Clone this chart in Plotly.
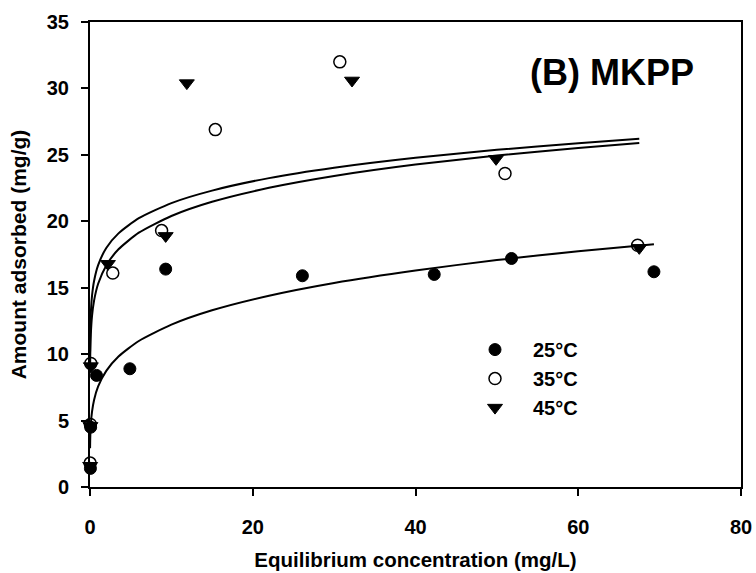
import plotly.graph_objects as go

# Measured data
c25 = [0.05, 0.08, 0.8, 4.9, 9.3, 26.1, 42.3, 51.8, 69.3]
q25 = [1.4, 4.5, 8.4, 8.9, 16.4, 15.9, 16.0, 17.2, 16.2]
c35 = [0.02, 0.05, 0.1, 2.8, 8.8, 15.4, 30.7, 51.0, 67.3]
q35 = [1.8, 4.7, 9.3, 16.1, 19.3, 26.9, 32.0, 23.6, 18.2]
c45 = [0.02, 0.05, 0.1, 2.2, 9.3, 11.9, 32.2, 49.9, 67.5]
q45 = [1.6, 4.6, 9.1, 16.8, 18.9, 30.4, 30.6, 24.7, 18.0]

# Fitted curves
fit_c_low = [0.01, 0.03, 0.1, 0.25, 0.5, 1, 2, 3.5, 6, 10, 15, 22, 30, 40, 50, 60, 69.3]
fit_q_low = [2.91, 3.65, 4.69, 5.67, 6.55, 7.57, 8.74, 9.82, 10.99, 12.22, 13.30, 14.40, 15.36, 16.30, 17.08, 17.74, 18.28]
fit_c_up = [0.01, 0.03, 0.1, 0.25, 0.5, 1, 2, 3.5, 6, 10, 15, 22, 30, 40, 50, 60, 67.5]
fit_q_a = [10.2, 11.48, 13.05, 14.40, 15.51, 16.70, 17.99, 19.09, 20.23, 21.37, 22.31, 23.25, 24.03, 24.78, 25.38, 25.88, 26.21]
fit_q_b = [8.60, 9.87, 11.47, 12.87, 14.03, 15.30, 16.68, 17.89, 19.14, 20.40, 21.47, 22.52, 23.41, 24.27, 24.95, 25.52, 25.90]

FONT = "Liberation Sans, Arial, sans-serif"

fig = go.Figure()
for cx, qy in [(fit_c_low, fit_q_low), (fit_c_up, fit_q_a), (fit_c_up, fit_q_b)]:
    fig.add_trace(go.Scatter(x=cx, y=qy, mode="lines", line=dict(color="black", width=2, shape="spline", smoothing=0.6),
                             showlegend=False, hoverinfo="skip", cliponaxis=False))

fig.add_trace(go.Scatter(x=c25, y=q25, mode="markers", name="25°C", legendgroup="a",
                         marker=dict(symbol="circle", size=12, color="black", line=dict(color="black", width=1)),
                         cliponaxis=False))
fig.add_trace(go.Scatter(x=c35, y=q35, mode="markers", name="35°C", legendgroup="b",
                         marker=dict(symbol="circle-open", size=12, color="black", line=dict(color="black", width=1.5)),
                         cliponaxis=False))
fig.add_trace(go.Scatter(x=c45, y=q45, mode="markers", name="45°C", legendgroup="c",
                         marker=dict(symbol="triangle-down", size=13, color="black", line=dict(color="black", width=1)),
                         cliponaxis=False))

fig.add_annotation(text="(B) MKPP", x=(612 - 90) / 651, y=(487 - 72) / 465.3, xref="paper", yref="paper",
                   xanchor="center", yanchor="middle",
                   showarrow=False, font=dict(family=FONT, size=36, color="black", weight="bold"))

axis_common = dict(showgrid=False, zeroline=False, showline=True, linecolor="black", linewidth=2, mirror=True,
                   ticks="outside", ticklen=7, tickwidth=2, tickcolor="black", layer="below traces", automargin=False,
                   tickfont=dict(family=FONT, size=20, color="black", weight="bold"))

fig.update_xaxes(range=[0, 80], tickvals=[0, 20, 40, 60, 80], ticklabelstandoff=14,
                 title=dict(text="Equilibrium concentration (mg/L)", font=dict(family=FONT, size=20.5, color="black", weight="bold"), standoff=16),
                 **axis_common)
fig.update_yaxes(range=[0, 35], tickvals=[0, 5, 10, 15, 20, 25, 30, 35], ticklabelstandoff=8,
                 title=dict(text="Amount adsorbed (mg/g)", font=dict(family=FONT, size=21, color="black", weight="bold"), standoff=14),
                 **axis_common)

fig.update_layout(
    width=756, height=573, autosize=False,
    margin=dict(l=90, r=15, t=22, b=86, autoexpand=False),
    paper_bgcolor="white", plot_bgcolor="white",
    font=dict(family=FONT, color="black"),
    legend=dict(x=(457 - 90) / 651, y=(487 - 330) / 465.3, xanchor="left", yanchor="top",
                font=dict(family=FONT, size=20, color="black", weight="bold"), bgcolor="rgba(0,0,0,0)",
                traceorder="grouped", tracegroupgap=0, itemwidth=66),
)

fig.write_html("out.html")
